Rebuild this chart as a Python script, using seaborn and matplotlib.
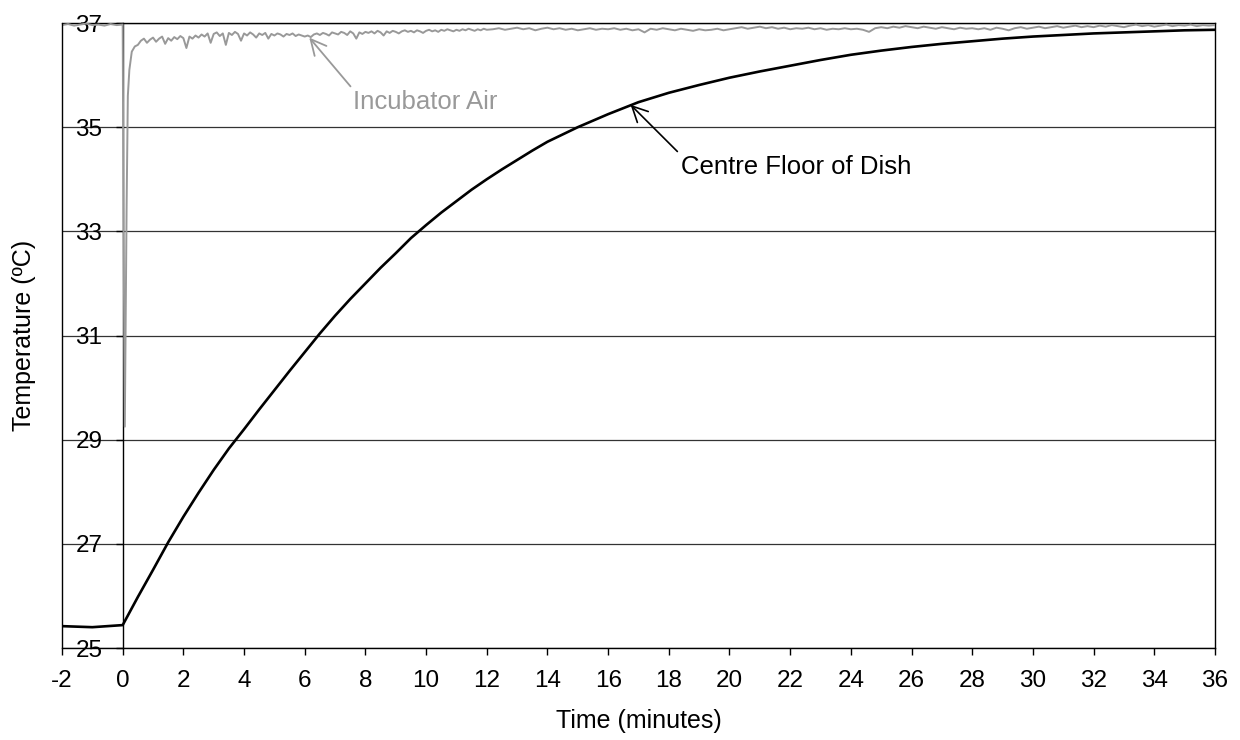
import numpy as np
import pandas as pd
import matplotlib
matplotlib.use("Agg")
import matplotlib.pyplot as plt
import seaborn as sns

# --- data ---
# centre floor of dish (black)
dish_time = [-2.0, -1.5, -1.0, -0.5,
             0.0, 0.5, 1.0, 1.5, 2.0, 2.5, 3.0, 3.5, 4.0, 4.5, 5.0, 5.5, 6.0, 6.5,
             7.0, 7.5, 8.0, 8.5, 9.0, 9.5, 10.0, 10.5, 11.0, 11.5, 12.0, 12.5,
             13.0, 13.5, 14.0, 15, 16, 17, 18, 19, 20, 21, 22, 23, 24, 25, 26,
             27, 28, 29, 30, 31, 32, 33, 34, 35, 36]
dish_temp = [25.42, 25.41, 25.40, 25.42,
             25.44, 25.98, 26.50, 27.03, 27.52, 27.98, 28.42, 28.83, 29.20, 29.58,
             29.95, 30.32, 30.68, 31.04, 31.38, 31.70, 32.00, 32.30, 32.58, 32.87,
             33.12, 33.36, 33.58, 33.80, 34.00, 34.19, 34.37, 34.55, 34.72, 35.00,
             35.25, 35.48, 35.66, 35.81, 35.95, 36.07, 36.18, 36.29, 36.39, 36.47,
             36.54, 36.60, 36.65, 36.70, 36.74, 36.77, 36.80, 36.82, 36.84, 36.86,
             36.87]

# incubator air (grey): door-opening dip at t=0, then noisy recovery
air_time_start = [-2.0, -1.8, -1.6, -1.4, -1.2, -1.0, -0.8, -0.6, -0.4, -0.2, 0.0,
                  0.03, 0.07, 0.13, 0.17, 0.22, 0.30, 0.40]
air_temp_start = [36.96, 36.98, 36.95, 36.97, 36.99, 36.96, 36.97, 36.95, 36.98,
                  36.96, 36.97,
                  33.00, 29.25, 33.50, 35.60, 36.10, 36.45, 36.55]

air_temp_fine = [  # t = 0.5 .. 12.0, step 0.1
    36.58, 36.66, 36.70, 36.62, 36.68, 36.72, 36.64, 36.70, 36.74, 36.60, 36.71,
    36.66, 36.73, 36.69, 36.75, 36.71, 36.52, 36.74, 36.70, 36.76, 36.72,
    36.78, 36.74, 36.80, 36.62, 36.79, 36.82, 36.75, 36.80, 36.58, 36.81, 36.77,
    36.83, 36.79, 36.66, 36.80, 36.76, 36.82, 36.78, 36.72, 36.80, 36.77, 36.81,
    36.70, 36.79, 36.76, 36.80, 36.78, 36.74, 36.79, 36.77, 36.80, 36.75, 36.78,
    36.76, 36.74,
    36.76, 36.73, 36.78, 36.80, 36.77, 36.81, 36.79, 36.76, 36.82, 36.80, 36.78,
    36.83, 36.81, 36.77, 36.84, 36.80, 36.70, 36.82, 36.79, 36.83, 36.81, 36.84,
    36.80, 36.85, 36.82, 36.76, 36.84, 36.81, 36.85, 36.83, 36.80, 36.84, 36.86,
    36.83, 36.85, 36.82, 36.86, 36.84, 36.81, 36.85, 36.87, 36.84, 36.86, 36.83,
    36.87, 36.85, 36.88, 36.86, 36.84, 36.87, 36.85, 36.88, 36.86, 36.89, 36.87,
    36.85, 36.88, 36.86, 36.89, 36.87]

air_temp_coarse = [  # t = 12.2 .. 36.0, step 0.2
    36.88, 36.90, 36.87, 36.89, 36.91, 36.88, 36.90, 36.86, 36.89, 36.91,
    36.88, 36.90, 36.87, 36.89, 36.86, 36.88, 36.90, 36.87, 36.89, 36.88,
    36.90, 36.87, 36.89, 36.86, 36.88, 36.82, 36.89, 36.87, 36.90, 36.88,
    36.86, 36.89, 36.87, 36.85, 36.88, 36.86, 36.87, 36.89, 36.86, 36.88,
    36.90, 36.92, 36.89, 36.91, 36.93, 36.90, 36.92, 36.89, 36.91, 36.88,
    36.90, 36.89, 36.91, 36.88, 36.90, 36.87, 36.89, 36.88, 36.90, 36.88,
    36.89, 36.87, 36.83, 36.90, 36.92, 36.90, 36.93, 36.91, 36.94, 36.92,
    36.90, 36.93, 36.91, 36.89, 36.92, 36.90, 36.88, 36.91, 36.89, 36.90,
    36.88, 36.90, 36.87, 36.91, 36.89, 36.86, 36.90, 36.92, 36.89, 36.91,
    36.93, 36.90, 36.92, 36.94, 36.91, 36.93, 36.95, 36.92, 36.94, 36.92,
    36.95, 36.93, 36.96, 36.94, 36.92, 36.95, 36.97, 36.94, 36.96, 36.93,
    36.95, 36.97, 36.94, 36.96, 36.95, 36.97, 36.94, 36.96, 36.95, 36.96]

x_ticks = list(range(-2, 37, 2))
y_ticks = [25, 27, 29, 31, 33, 35, 37]


def main():
    air_time = (air_time_start
                + list(np.round(np.linspace(0.5, 12.0, len(air_temp_fine)), 2))
                + list(np.round(np.linspace(12.2, 36.0, len(air_temp_coarse)), 2)))
    air_temp = air_temp_start + air_temp_fine + air_temp_coarse
    air = pd.DataFrame({"time": air_time, "temp": air_temp})
    dish = pd.DataFrame({"time": dish_time, "temp": dish_temp})

    sns.set_style("white")
    plt.rcParams["font.family"] = ["Liberation Sans", "DejaVu Sans"]
    plt.rcParams["axes.unicode_minus"] = False
    for key in ["text.color", "axes.labelcolor", "xtick.color", "ytick.color"]:
        plt.rcParams[key] = "black"

    fig = plt.figure(figsize=(12.4, 7.4), dpi=100)
    ax = fig.add_axes([0.05, 0.1243, 0.9298, 0.8446])

    grey = "#999999"
    sns.lineplot(data=air, x="time", y="temp", ax=ax, color=grey, lw=1.4,
                 estimator=None, sort=False, zorder=3)
    sns.lineplot(data=dish, x="time", y="temp", ax=ax, color="black", lw=1.9,
                 estimator=None, sort=False, zorder=3.5)

    ax.set_xlim(-2, 36)
    ax.set_ylim(25, 37)
    ax.set_xticks(x_ticks)
    ax.set_yticks(y_ticks)

    # y axis sits at time 0, plot frame stays at -2
    ax.spines["left"].set_position(("data", 0))
    for s in ax.spines.values():
        s.set_color("black")
        s.set_linewidth(1.0)
    ax.axvline(-2, color="black", lw=1.0, clip_on=False, zorder=3)

    ax.yaxis.grid(True, color="#333333", lw=0.9)
    ax.xaxis.grid(False)
    ax.tick_params(axis="y", direction="out", length=5, width=1, pad=9.5,
                   left=True, labelsize=17.5, colors="black")
    ax.tick_params(axis="x", direction="out", length=5, width=1, pad=11,
                   bottom=True, labelsize=17.5, colors="black")

    ax.set_xlabel("Time (minutes)", fontsize=18)
    ax.set_ylabel("Temperature (ºC)", fontsize=18)
    ax.xaxis.set_label_coords(0.5, -0.098)
    ax.yaxis.set_label_coords(-0.0225, 0.5)

    ax.annotate("Incubator Air", xy=(6.15, 36.72), xytext=(7.6, 35.49),
                color=grey, fontsize=18.5, ha="left", va="center",
                arrowprops=dict(arrowstyle="->,head_length=0.6,head_width=0.3",
                                color=grey, lw=1.3, relpos=(0.0, 1.0),
                                shrinkA=0, shrinkB=0))
    ax.annotate("Centre Floor of Dish", xy=(16.74, 35.43), xytext=(18.39, 34.24),
                color="black", fontsize=18.5, ha="left", va="center",
                arrowprops=dict(arrowstyle="->,head_length=0.6,head_width=0.3",
                                color="black", lw=1.2, relpos=(0.0, 1.0),
                                shrinkA=0, shrinkB=0))

    fig.savefig("out.png", dpi=100)


if __name__ == "__main__":
    main()
